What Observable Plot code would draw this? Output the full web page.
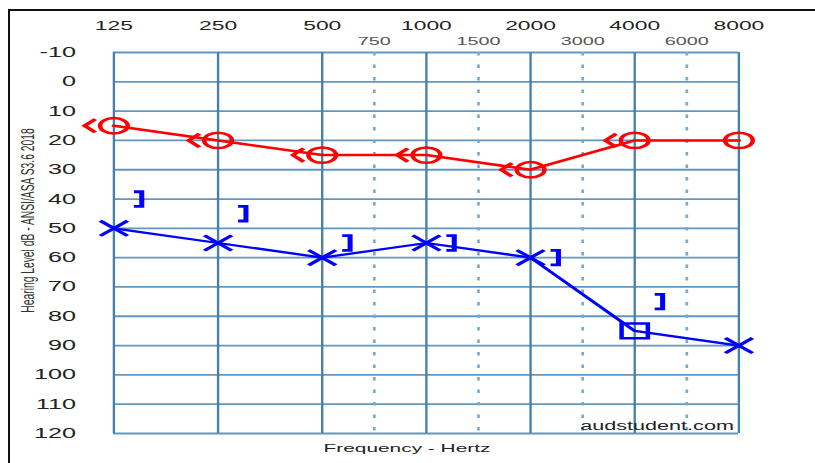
<!DOCTYPE html>
<html><head><meta charset="utf-8">
<script src="https://cdn.jsdelivr.net/npm/d3@7"></script>
<script src="https://cdn.jsdelivr.net/npm/@observablehq/plot@0.6"></script>
<style>
html,body{margin:0;padding:0;background:#fff;}
#wrap{position:relative;width:815px;height:463px;overflow:hidden;}
#frame{position:absolute;left:8px;top:9px;width:820px;height:470px;border-top:2px solid #111;border-left:2px solid #111;pointer-events:none;}
svg{display:block;}
</style></head><body>
<div id="wrap"><div id="chart"></div><div id="frame"></div></div>
<script>
// ---- data ----
const mainFreqs = [125, 250, 500, 1000, 2000, 4000, 8000];
const midFreqs = [750, 1500, 3000, 6000];
const dbTicks = [-10, 0, 10, 20, 30, 40, 50, 60, 70, 80, 90, 100, 110, 120];

// Right ear (red): air conduction "O" and bone conduction "<"
const rightACFreqs = [125, 250, 500, 1000, 2000, 4000, 8000];
const rightAC = [15, 20, 25, 25, 30, 20, 20];
const rightBCFreqs = [125, 250, 500, 1000, 2000, 4000];
const rightBC = [15, 20, 25, 25, 30, 20];

// Left ear (blue): air conduction "X", masked air conduction square, masked bone "]"
const leftACFreqs = [125, 250, 500, 1000, 2000, 8000];
const leftAC = [50, 55, 60, 55, 60, 90];
const leftMaskedACFreqs = [4000];
const leftMaskedAC = [85];
const leftLineFreqs = [125, 250, 500, 1000, 2000, 4000, 8000];
const leftLine = [50, 55, 60, 55, 60, 85, 90];
const leftMaskedBCFreqs = [125, 250, 500, 1000, 2000, 4000];
const leftMaskedBC = [40, 45, 55, 55, 60, 75];

const yTitle = "Hearing Level dB - ANSI/ASA S3.6 2018";
const xTitle = "Frequency - Hertz";
const credit = "audstudent.com";

// ---- helpers ----
const zip = (fs, vs) => fs.map((f, i) => ({f, v: vs[i]}));
// audiogram position: octaves above 125 Hz, inter-octave frequencies at half-octave
const audPos = f => Math.round(2 * Math.log2(f / 125)) / 2;

const rOf = s => Math.sqrt(s / Math.PI);
const symX = {draw(c, s) {const a = rOf(s); c.moveTo(-a, -a); c.lineTo(a, a); c.moveTo(-a, a); c.lineTo(a, -a);}};
const symSquare = {draw(c, s) {const a = rOf(s); c.moveTo(-a, -a); c.lineTo(a, -a); c.lineTo(a, a); c.lineTo(-a, a); c.closePath();}};
const symBracket = {draw(c, s) {const h = rOf(s), w = h * 0.3; c.moveTo(-w, -h); c.lineTo(w, -h); c.lineTo(w, h); c.lineTo(-w, h);}};
const symLess = {draw(c, s) {const h = rOf(s), w = h * 0.45; c.moveTo(w, -h); c.lineTo(-w, 0); c.lineTo(w, h);}};

const W = 815, H = 463;
const NW = 453;               // drawn narrow, then stretched horizontally like the reference
const k = W / NW;
const font = "'Liberation Sans', Arial, Helvetica, sans-serif";
const red = "#ff0000", blue = "#0000ff";

const chart = Plot.plot({
  width: NW,
  height: H,
  marginLeft: 113 / k,
  marginRight: NW - 738 / k,
  marginTop: 52,
  marginBottom: 30,
  style: {fontFamily: font, background: "transparent", overflow: "visible"},
  x: {type: "linear", domain: [0, 6], axis: null},
  y: {domain: [-10, 120], reverse: true, axis: null},
  marks: [
    Plot.gridY(dbTicks, {stroke: "#5f98c4", strokeOpacity: 1, strokeWidth: 1.8}),
    Plot.gridX(midFreqs, {x: audPos, stroke: "#78aad0", strokeOpacity: 1, strokeWidth: 1.5, strokeDasharray: "3.5,9"}),
    Plot.gridX(mainFreqs, {x: audPos, stroke: "#4480ae", strokeOpacity: 1, strokeWidth: 1.3}),
    // tick labels
    Plot.text(mainFreqs, {x: audPos, text: d => String(d), frameAnchor: "top", lineAnchor: "bottom", dy: -22.7, fontSize: 12.7, fill: "#222"}),
    Plot.text(midFreqs, {x: audPos, text: d => String(d), frameAnchor: "top", lineAnchor: "bottom", dy: -8, fontSize: 11, fill: "#555"}),
    Plot.text(dbTicks, {y: d => d, text: d => String(d), frameAnchor: "left", textAnchor: "end", dx: -21.1, fontSize: 14, fill: "#222"}),
    // titles
    Plot.text([yTitle], {text: d => d, frameAnchor: "left", textAnchor: "middle", rotate: -90, dx: -47.8, dy: -22.5, fontSize: 10.3, fill: "#333"}),
    Plot.text([xTitle], {text: d => d, frameAnchor: "bottom", lineAnchor: "bottom", dx: -10.8, dy: 18, fontSize: 11.6, fill: "#222"}),
    Plot.text([credit], {text: d => d, frameAnchor: "bottom-right", textAnchor: "end", lineAnchor: "bottom", dx: -2.8, dy: -4, fontSize: 12, fill: "#222"}),
    // right ear
    Plot.line(zip(rightACFreqs, rightAC), {x: d => audPos(d.f), y: "v", stroke: red, strokeWidth: 2.5}),
    Plot.dot(zip(rightACFreqs, rightAC), {x: d => audPos(d.f), y: "v", r: 7.7, symbol: "circle", stroke: red, fill: "none", strokeWidth: 2.5}),
    Plot.dot(zip(rightBCFreqs, rightBC), {x: d => audPos(d.f), y: "v", r: 6.7, symbol: symLess, dx: -13.3, stroke: red, fill: "none", strokeWidth: 2.7}),
    // left ear
    Plot.line(zip(leftLineFreqs, leftLine), {x: d => audPos(d.f), y: "v", stroke: blue, strokeWidth: 2.3}),
    Plot.dot(zip(leftACFreqs, leftAC), {x: d => audPos(d.f), y: "v", r: 7.6, symbol: symX, stroke: blue, fill: "none", strokeWidth: 2.6}),
    Plot.dot(zip(leftMaskedACFreqs, leftMaskedAC), {x: d => audPos(d.f), y: "v", r: 7.3, symbol: symSquare, stroke: blue, fill: "none", strokeWidth: 2.5}),
    Plot.dot(zip(leftMaskedBCFreqs, leftMaskedBC), {x: d => audPos(d.f), y: "v", r: 7.3, symbol: symBracket, dx: 13.3, stroke: blue, fill: "none", strokeWidth: 2.8})
  ]
});

chart.setAttribute("width", W);
chart.setAttribute("height", H);
chart.setAttribute("viewBox", `0 0 ${NW} ${H}`);
chart.setAttribute("preserveAspectRatio", "none");
chart.style.width = W + "px";
chart.style.height = H + "px";
chart.style.maxWidth = "none";
document.getElementById("chart").appendChild(chart);
</script>
</body></html>
